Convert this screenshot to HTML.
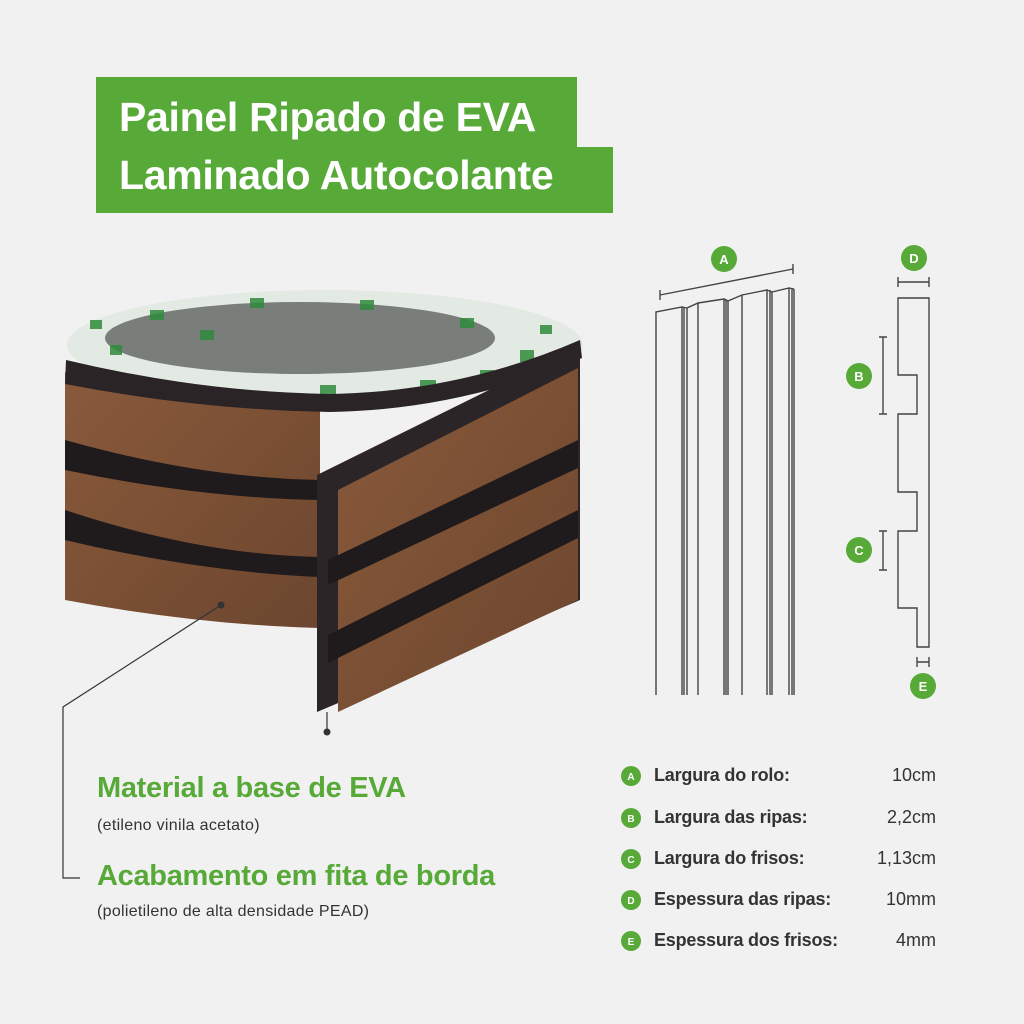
<!DOCTYPE html>
<html><head><meta charset="utf-8"><style>
html,body{margin:0;padding:0;background:#f1f1f1;}
body{width:1024px;height:1024px;position:relative;overflow:hidden;font-family:"Liberation Sans",sans-serif;}
.t{position:absolute;white-space:nowrap;}
.tb{background:#57a938;color:#fff;font-weight:bold;font-size:41px;letter-spacing:-0.3px;position:absolute;left:96px;padding-left:23px;box-sizing:border-box;}
.g{color:#57a938;font-weight:bold;font-size:29px;letter-spacing:-0.3px;}
.s{color:#333;font-size:16px;letter-spacing:0.3px;}
.lab{color:#333;font-weight:bold;font-size:18px;letter-spacing:-0.2px;left:654px;}
.val{color:#333;font-size:18px;right:88px;}
</style></head><body>
<div class="tb" style="top:77px;width:481px;height:72px;line-height:80px;">Painel Ripado de EVA</div>
<div class="tb" style="top:147px;width:517px;height:66px;line-height:56px;">Laminado Autocolante</div>

<svg width="1024" height="1024" style="position:absolute;left:0;top:0">
<defs>
<linearGradient id="br" x1="0" y1="0" x2="1" y2="1">
<stop offset="0" stop-color="#8a5a3c"/><stop offset="0.5" stop-color="#7b5034"/><stop offset="1" stop-color="#6c4630"/>
</linearGradient>
</defs>
<!-- roll top opening -->
<ellipse cx="325" cy="345" rx="258" ry="55" fill="#e3eae3"/>
<ellipse cx="300" cy="338" rx="195" ry="36" fill="#7a7e7a"/>
<g fill="#2f8a3c" opacity="0.85">
<rect x="150" y="310" width="14" height="10"/><rect x="250" y="298" width="14" height="10"/><rect x="360" y="300" width="14" height="10"/>
<rect x="460" y="318" width="14" height="10"/><rect x="520" y="350" width="14" height="12"/><rect x="110" y="345" width="12" height="10"/>
<rect x="320" y="385" width="16" height="12"/><rect x="420" y="380" width="16" height="12"/><rect x="200" y="330" width="14" height="10"/>
<rect x="90" y="320" width="12" height="9"/><rect x="540" y="325" width="12" height="9"/><rect x="480" y="370" width="14" height="10"/>
</g>
<!-- body -->
<path d="M65,372 Q200,398 320,400 L320,628 Q200,625 65,600 Z" fill="url(#br)"/>
<path d="M66,360 Q200,392 330,394 Q460,392 580,340 L582,358 Q460,410 330,412 Q200,410 65,384 Z" fill="#2a2426"/>
<path d="M65,440 Q200,478 320,480 L320,500 Q200,498 65,470 Z" fill="#1f1a1c"/>
<path d="M65,510 Q200,555 320,557 L320,577 Q200,572 65,540 Z" fill="#1f1a1c"/>
<!-- strip -->
<path d="M317,475 L580,345 L580,600 L317,712 Z" fill="#2c2527"/>
<path d="M338,490 L578,368 L578,600 L338,712 Z" fill="url(#br)"/>
<path d="M328,560 L578,440 L578,468 L328,585 Z" fill="#1f1a1c"/>
<path d="M328,635 L578,510 L578,538 L328,663 Z" fill="#1f1a1c"/>
<!-- connectors -->
<g stroke="#333" stroke-width="1.2" fill="none">
<path d="M221,605 L63,707 L63,878 L80,878"/>
<path d="M327,712 L327,732"/>
</g>
<circle cx="221" cy="605" r="3.5" fill="#333"/>
<circle cx="327" cy="732" r="3.5" fill="#333"/>

<!-- panel diagram -->
<g stroke="#444" stroke-width="1.4" fill="none">
<path d="M656,695 V312 L682,307 V695 M684,695 V307 M687,695 V308 L698,303 V695 M698,303 L724,299 V695 M726,695 V299 M728,695 V301 L742,295 V695 M742,295 L767,290 V695 M770,695 V290 M772,695 V292 L789,288 V695 M792,695 V288 M794,695 V289 M682,307 L687,308 M724,299 L728,301 M767,290 L772,292 M789,288 L794,289"/>
<path d="M660,295 L793,269 M660,290 V300 M793,264 V274"/>
<path d="M898,298 H929 V647 H917 V608 H898 V531 H917 V492 H898 V414 H917 V375 H898 Z"/>
<path d="M898,282 H929 M898,277 V287 M929,277 V287"/>
<path d="M917,662 H929 M917,657 V667 M929,657 V667"/>
<path d="M883,337 V414 M879,337 H887 M879,414 H887"/>
<path d="M883,531 V570 M879,531 H887 M879,570 H887"/>
</g>
<g fill="#57a938">
<circle cx="724" cy="259" r="13"/><circle cx="914" cy="258" r="13"/><circle cx="859" cy="376" r="13"/><circle cx="859" cy="550" r="13"/><circle cx="923" cy="686" r="13"/>
<circle cx="631" cy="776" r="10"/><circle cx="631" cy="818" r="10"/><circle cx="631" cy="859" r="10"/><circle cx="631" cy="900" r="10"/><circle cx="631" cy="941" r="10"/>
</g>
<g fill="#fff" font-family="Liberation Sans" font-weight="bold" text-anchor="middle">
<text x="724" y="264" font-size="13">A</text><text x="914" y="263" font-size="13">D</text><text x="859" y="381" font-size="13">B</text><text x="859" y="555" font-size="13">C</text><text x="923" y="691" font-size="13">E</text>
<text x="631" y="780" font-size="10">A</text><text x="631" y="822" font-size="10">B</text><text x="631" y="863" font-size="10">C</text><text x="631" y="904" font-size="10">D</text><text x="631" y="945" font-size="10">E</text>
</g>
</svg>

<div class="t g" style="left:97px;top:772px;">Material a base de EVA</div>
<div class="t s" style="left:97px;top:817px;">(etileno vinila acetato)</div>
<div class="t g" style="left:97px;top:860px;">Acabamento em fita de borda</div>
<div class="t s" style="left:97px;top:903px;">(polietileno de alta densidade PEAD)</div>

<div class="t lab" style="top:765px;">Largura do rolo:</div><div class="t val" style="top:765px;">10cm</div>
<div class="t lab" style="top:807px;">Largura das ripas:</div><div class="t val" style="top:807px;">2,2cm</div>
<div class="t lab" style="top:848px;">Largura do frisos:</div><div class="t val" style="top:848px;">1,13cm</div>
<div class="t lab" style="top:889px;">Espessura das ripas:</div><div class="t val" style="top:889px;">10mm</div>
<div class="t lab" style="top:930px;">Espessura dos frisos:</div><div class="t val" style="top:930px;">4mm</div>
</body></html>
